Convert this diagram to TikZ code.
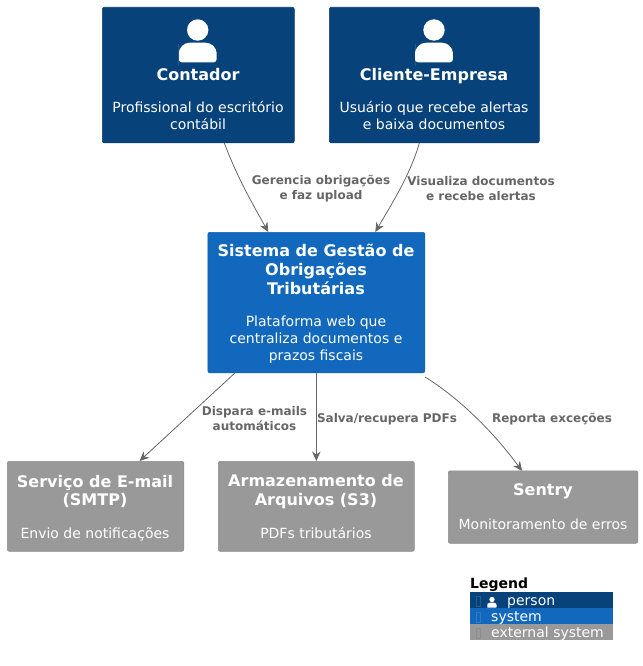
\documentclass[tikz,border=0pt]{standalone}
\usepackage{fontspec}
\setmainfont{DejaVu Sans}
\usetikzlibrary{arrows.meta}
\definecolor{personc}{HTML}{08427B}
\definecolor{systemc}{HTML}{1168BD}
\definecolor{extc}{HTML}{999999}
\definecolor{linec}{HTML}{666666}
\tikzset{
  box/.style={rectangle,rounded corners=2pt,inner sep=0pt,draw=#1!92!black,line width=0.6pt,fill=#1,anchor=north west},
  ttl/.style={text=white,font=\bfseries\fontsize{16}{18.8}\selectfont,align=center,inner sep=0pt},
  dsc/.style={text=white,font=\fontsize{14}{17}\selectfont,align=center,inner sep=0pt},
  edgelab/.style={text=linec,font=\bfseries\fontsize{12}{15}\selectfont,align=center,inner sep=0pt},
  rel/.style={draw=linec,line width=0.8pt,-{Stealth[length=9.5pt,width=8.5pt]}},
  legrow/.style={rectangle,inner sep=0pt,anchor=north west,minimum width=142.5pt,minimum height=16pt},
  legtxt/.style={text=white,font=\fontsize{14}{15}\selectfont,inner sep=0pt,anchor=base west},
}
\newcommand{\personicon}[3]{% x, y (head centre), scale
  \fill[white] (#1,#2) circle ({10.7*#3});
  \fill[white,rounded corners={3*#3}] ({#1-18.9*#3},{#2+32.3*#3}) -- ({#1+18.9*#3},{#2+32.3*#3}) -- ({#1+18.9*#3},{#2+25*#3}) {[rounded corners={11*#3}] -- ({#1+18.9*#3},{#2+12.7*#3}) -- ({#1-18.9*#3},{#2+12.7*#3}) -- ({#1-18.9*#3},{#2+25*#3})} -- cycle;
}
\begin{document}
\begin{tikzpicture}[x=1pt,y=-1pt]
\useasboundingbox (0,0) rectangle (642,666);
% boxes
\node[box=personc,minimum width=192pt,minimum height=135.5pt] (contador) at (102,7) {};
\node[box=personc,minimum width=210pt,minimum height=135.5pt] (cliente) at (329,7) {};
\node[box=systemc,minimum width=217pt,minimum height=140.5pt] (sistema) at (207.5,232) {};
\node[box=extc,minimum width=176.5pt,minimum height=90pt] (email) at (7,461) {};
\node[box=extc,minimum width=196pt,minimum height=90pt] (s3) at (218,461) {};
\node[box=extc,minimum width=189.5pt,minimum height=72.5pt] (sentry) at (448,470.5) {};
% icons
\personicon{197.7}{30}{1}
\personicon{434}{30}{1}
% titles & descriptions
\node[ttl] (t1) at (198,74.5) {Contador};
\node[dsc] (d1) at (198,115.5) {Profissional do escritório\\contábil};
\node[ttl] (t2) at (434,76) {Cliente-Empresa};
\node[dsc] (d2) at (434,115.5) {Usuário que recebe alertas\\e baixa documentos};
\node[ttl] (t3) at (316,269.5) {Sistema de Gestão de\\Obrigações\\Tributárias};
\node[dsc] (d3) at (316,339.5) {Plataforma web que\\centraliza documentos e\\prazos fiscais};
\node[ttl] (t4) at (95,491.5) {Serviço de E-mail\\(SMTP)};
\node[dsc] (d4) at (95,534) {Envio de notificações};
\node[ttl] (t5) at (316,491.5) {Armazenamento de\\Arquivos (S3)};
\node[dsc] (d5) at (316,533) {PDFs tributários};
\node[ttl] (t6) at (543,491.5) {Sentry};
\node[dsc] (d6) at (543,524.5) {Monitoramento de erros};
% connectors
\draw[rel] ([xshift=26pt]contador.south) .. controls +(13,34) and +(-18,-32) .. ([xshift=-48pt]sistema.north);
\draw[rel] ([xshift=-15pt]cliente.south) .. controls +(-9,32) and +(14,-24) .. ([xshift=59pt]sistema.north);
\draw[rel] ([xshift=-81.5pt]sistema.south) -- ([xshift=44pt]email.north);
\draw[rel] (sistema.south) -- (s3.north);
\draw[rel] ([yshift=-4pt]sistema.south east) .. controls +(28,17) and +(-33,-45) .. ([xshift=-21pt,yshift=-0.5pt]sentry.north);
% edge labels
\node[edgelab] (l1) at (321,189) {Gerencia obrigações\\e faz upload};
\node[edgelab] (l2) at (481,189) {Visualiza documentos\\e recebe alertas};
\node[edgelab] (l3) at (254.5,419) {Dispara e-mails\\automáticos};
\node[edgelab] (l4) at (387,419) {Salva/recupera PDFs};
\node[edgelab] (l5) at (552,419) {Reporta exceções};
% legend
\node[inner sep=0pt,anchor=base west,font=\bfseries\fontsize{14}{15}\selectfont] (legtitle) at (470,588) {Legend};
\node[legrow,fill=personc] (r1) at (470,592) {};
\node[legrow,fill=systemc] (r2) at (470,608) {};
\node[legrow,fill=extc] (r3) at (470,624) {};
\draw[personc!88!white,line width=0.4pt] (476.5,596) rectangle (480.5,606);
\draw[systemc!88!white,line width=0.4pt] (476.5,612) rectangle (480.5,622);
\draw[extc!92!black,line width=0.4pt] (476.5,628) rectangle (480.5,638);
\personicon{492}{599.5}{0.25}
\node[legtxt] (p) at (507,605) {person};
\node[legtxt] (s) at (491,621) {system};
\node[legtxt] (e) at (491,637) {external system};
\end{tikzpicture}
\end{document}
